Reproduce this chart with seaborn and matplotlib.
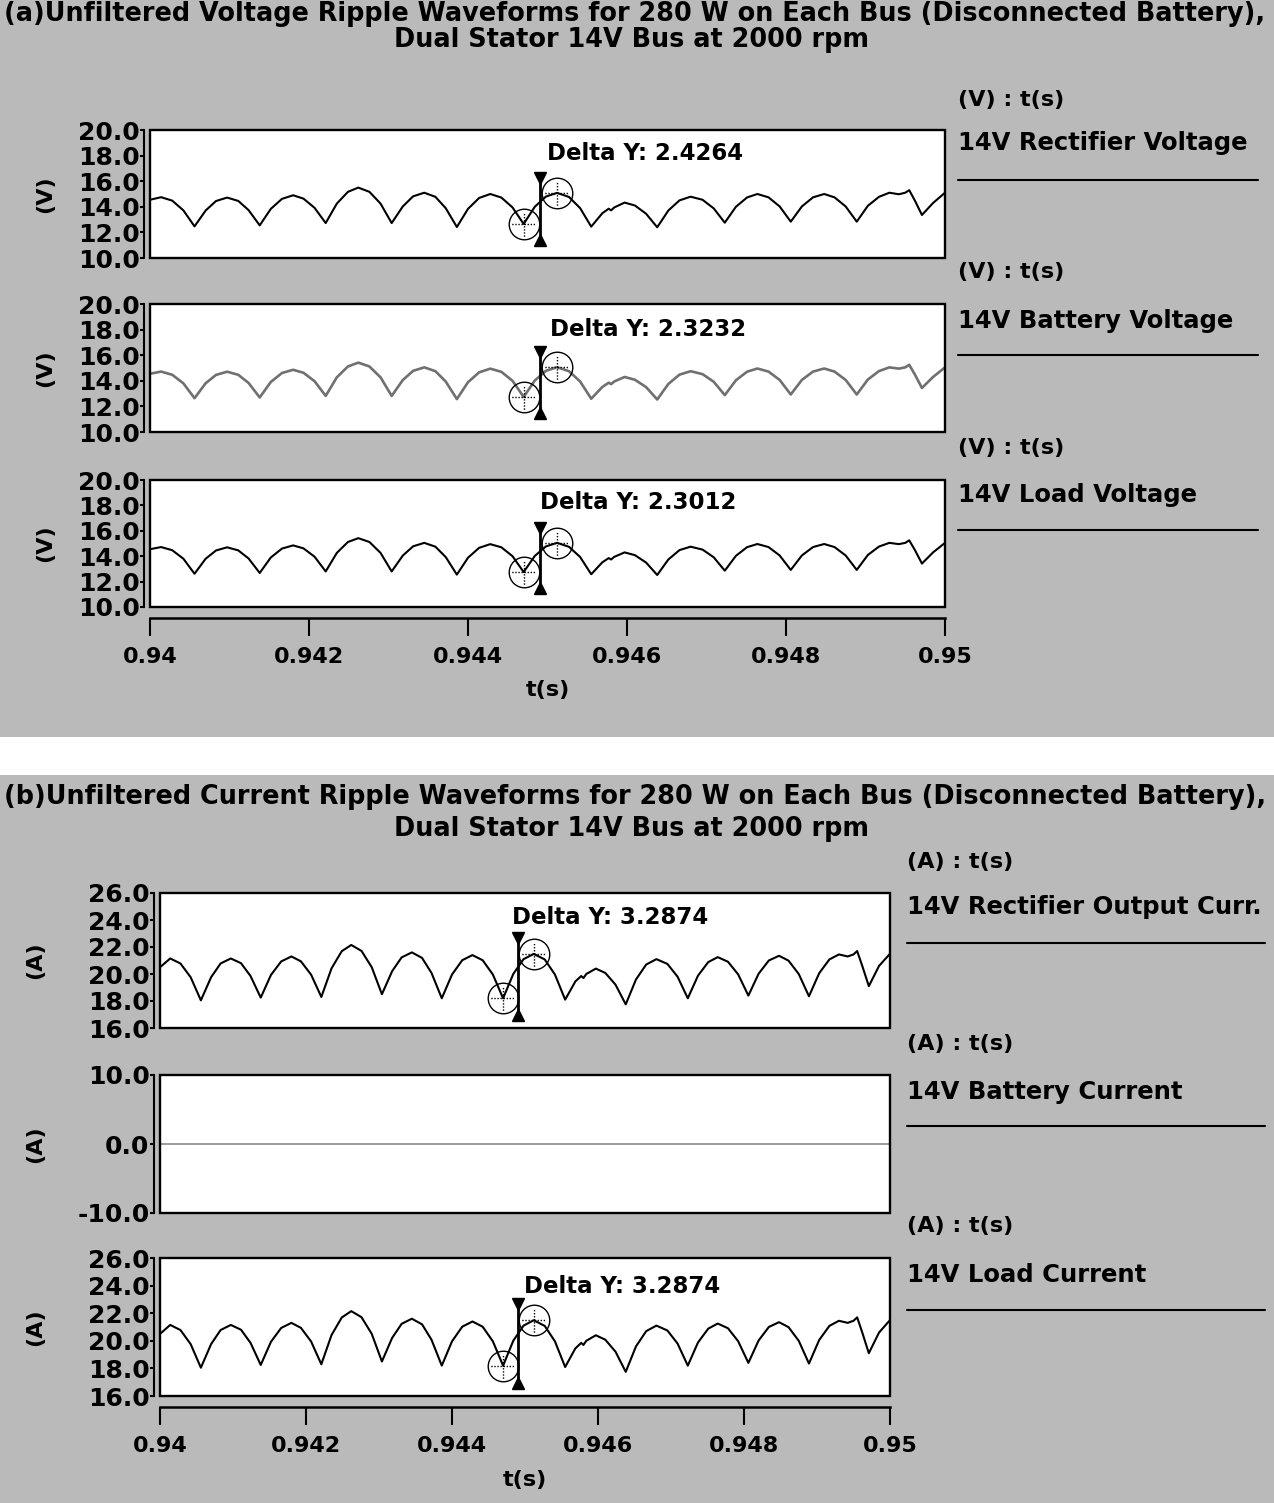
import matplotlib
matplotlib.use("Agg")
import matplotlib.pyplot as plt
from matplotlib.patches import Rectangle
from matplotlib.lines import Line2D
from matplotlib.path import Path
import numpy as np
import seaborn as sns

# ---------------------------------------------------------------- data
# simulation time base (s), shared by every trace
t_s = [
    0.94000, 0.94014, 0.94028, 0.94042,
    0.94056, 0.94070, 0.94083, 0.94097, 0.94111, 0.94124,
    0.94138, 0.94152, 0.94166, 0.94180, 0.94193, 0.94207,
    0.94221, 0.94235, 0.94249, 0.94262, 0.94276, 0.94290,
    0.94304, 0.94318, 0.94331, 0.94345, 0.94359, 0.94372,
    0.94386, 0.94400, 0.94414, 0.94428, 0.94442, 0.94456,
    0.94470, 0.94484, 0.94498, 0.94512, 0.94527, 0.94541,
    0.94555, 0.94569, 0.94577, 0.94580, 0.94584, 0.94597, 0.94610, 0.94624,
    0.94638, 0.94652, 0.94666, 0.94680, 0.94695, 0.94709,
    0.94723, 0.94737, 0.94751, 0.94764, 0.94778, 0.94792,
    0.94806, 0.94820, 0.94834, 0.94848, 0.94861, 0.94875,
    0.94889, 0.94903, 0.94917, 0.94930, 0.94942, 0.94950, 0.94955, 0.94962,
    0.94971, 0.94985, 0.95000,
]

# 14V rectifier voltage (V)
v_rect = [
    14.55, 14.75, 14.48, 13.72,
    12.47, 13.71, 14.45, 14.72, 14.46, 13.74,
    12.55, 13.84, 14.62, 14.90, 14.64, 13.92,
    12.73, 14.25, 15.17, 15.50, 15.17, 14.25,
    12.73, 14.03, 14.82, 15.10, 14.78, 13.89,
    12.42, 13.84, 14.69, 15.00, 14.72, 13.95,
    12.66, 14.00, 14.80, 15.0864, 14.77, 13.90,
    12.45, 13.50, 13.85, 13.72, 13.95, 14.33, 14.10, 13.46,
    12.40, 13.71, 14.50, 14.79, 14.55, 13.88,
    12.76, 14.00, 14.73, 15.00, 14.74, 14.03,
    12.84, 14.03, 14.74, 15.00, 14.74, 14.03,
    12.84, 14.08, 14.78, 15.10, 14.98, 15.10, 15.30, 14.50,
    13.36, 14.30, 15.10,
]

# 14V battery voltage (V)
v_batt = [
    14.55, 14.72, 14.47, 13.80,
    12.64, 13.81, 14.46, 14.71, 14.47, 13.83,
    12.70, 13.91, 14.61, 14.86, 14.63, 13.97,
    12.82, 14.27, 15.12, 15.42, 15.12, 14.27,
    12.82, 14.06, 14.78, 15.05, 14.75, 13.94,
    12.57, 13.89, 14.66, 14.95, 14.70, 14.00,
    12.74, 14.02, 14.78, 15.0632, 14.75, 13.95,
    12.60, 13.52, 13.85, 13.74, 13.95, 14.30, 14.08, 13.51,
    12.54, 13.75, 14.48, 14.75, 14.52, 13.93,
    12.88, 14.04, 14.71, 14.96, 14.72, 14.07,
    12.93, 14.07, 14.72, 14.96, 14.72, 14.07,
    12.93, 14.10, 14.76, 15.05, 14.95, 15.05, 15.25, 14.50,
    13.44, 14.30, 15.05,
]

# 14V load voltage (V)
v_load = [
    14.55, 14.72, 14.47, 13.80,
    12.62, 13.80, 14.45, 14.70, 14.46, 13.82,
    12.68, 13.90, 14.60, 14.85, 14.62, 13.96,
    12.80, 14.26, 15.12, 15.42, 15.12, 14.26,
    12.80, 14.05, 14.78, 15.05, 14.75, 13.93,
    12.55, 13.88, 14.66, 14.95, 14.70, 14.00,
    12.75, 14.02, 14.77, 15.0512, 14.74, 13.94,
    12.58, 13.52, 13.85, 13.74, 13.95, 14.30, 14.08, 13.50,
    12.52, 13.74, 14.48, 14.75, 14.52, 13.92,
    12.86, 14.03, 14.71, 14.96, 14.72, 14.06,
    12.92, 14.06, 14.72, 14.96, 14.72, 14.06,
    12.92, 14.10, 14.76, 15.05, 14.95, 15.05, 15.25, 14.50,
    13.42, 14.30, 15.05,
]

# 14V rectifier output current (A)
i_rect = [
    20.50, 21.15, 20.78, 19.76,
    18.05, 19.76, 20.78, 21.15, 20.80, 19.85,
    18.25, 19.93, 20.93, 21.30, 20.94, 19.95,
    18.30, 20.42, 21.69, 22.15, 21.71, 20.51,
    18.50, 20.21, 21.23, 21.60, 21.19, 20.07,
    18.20, 19.96, 21.02, 21.40, 21.02, 19.96,
    18.20, 20.01, 21.10, 21.4874, 21.08, 19.96,
    18.10, 19.45, 19.85, 19.70, 20.00, 20.40, 20.08, 19.21,
    17.75, 19.59, 20.70, 21.10, 20.75, 19.80,
    18.20, 19.88, 20.88, 21.25, 20.91, 19.97,
    18.40, 20.02, 21.00, 21.35, 20.99, 20.00,
    18.35, 20.06, 21.08, 21.45, 21.30, 21.45, 21.70, 20.60,
    19.10, 20.60, 21.50,
]

# 14V load current (A): battery disconnected, so it carries the rectifier current
i_load = list(i_rect)

# 14V battery current (A)
i_batt_t = [0.94000, 0.95000]
i_batt = [0.0, 0.0]

# cursor pair: valley and following peak, with the Delta Y readouts
cursor_t = [0.94470, 0.94512]
cursor_low = [12.66, 12.74, 12.75, 18.20, 18.20]
delta_y = [2.4264, 2.3232, 2.3012, 3.2874, 3.2874]

x_ticks = [0.940, 0.942, 0.944, 0.946, 0.948, 0.950]
x_tick_labels = ["0.94", "0.942", "0.944", "0.946", "0.948", "0.95"]
v_ticks = [10.0, 12.0, 14.0, 16.0, 18.0, 20.0]
i_ticks = [16.0, 18.0, 20.0, 22.0, 24.0, 26.0]
ib_ticks = [-10.0, 0.0, 10.0]

title_a = ["(a)Unfiltered Voltage Ripple Waveforms for 280 W on Each Bus (Disconnected Battery),",
           "Dual Stator 14V Bus at 2000 rpm"]
title_b = ["(b)Unfiltered Current Ripple Waveforms for 280 W on Each Bus (Disconnected Battery),",
           "Dual Stator 14V Bus at 2000 rpm"]
names_a = ["14V Rectifier Voltage", "14V Battery Voltage", "14V Load Voltage"]
names_b = ["14V Rectifier Output Curr.", "14V Battery Current", "14V Load Current"]

# ---------------------------------------------------------------- style
sns.set_theme(style="white")
plt.rcParams["font.family"] = ["DejaVu Sans"]
plt.rcParams["font.weight"] = "bold"

W, H = 1274, 1503
GRAY = "#bababa"


def fx(x):
    return x / W


def fy(y):
    return 1 - y / H


def target_path():
    """Circle with a dotted crosshair, used as the cursor marker."""
    circ = Path.unit_circle()
    verts = [tuple(v) for v in circ.vertices]
    codes = list(circ.codes)
    for a in np.arange(-0.8, 0.79, 0.2):
        verts += [(a, 0.0), (a + 0.09, 0.0), (0.0, a), (0.0, a + 0.09)]
        codes += [Path.MOVETO, Path.LINETO, Path.MOVETO, Path.LINETO]
    return Path(verts, codes)


TARGET = target_path()

fig = plt.figure(figsize=(W / 100, H / 100), dpi=100, facecolor="white")
fig.add_artist(Rectangle((0, fy(737)), 1, 737 / H, transform=fig.transFigure,
                         facecolor=GRAY, edgecolor="none", zorder=-20))
fig.add_artist(Rectangle((0, 0), 1, fy(775), transform=fig.transFigure,
                         facecolor=GRAY, edgecolor="none", zorder=-20))


def draw_panel(box, x, y, ylim, yticks, ylabel, label_x, color="black", lw=1.5,
               cursor=None, delta_pos=None, xaxis=False, xlabel_y=None):
    x0, x1, y0, y1 = box
    ax = fig.add_axes([fx(x0), fy(y1), (x1 - x0) / W, (y1 - y0) / H])
    ax.set_facecolor("white")
    sns.lineplot(x=x, y=y, ax=ax, color=color, lw=lw, estimator=None, zorder=4)
    ax.set_xlim(0.94, 0.95)
    ax.set_ylim(*ylim)
    for s in ax.spines.values():
        s.set_visible(False)
    ax.spines["left"].set_visible(True)
    ax.spines["left"].set_position(("outward", 4))
    ax.spines["left"].set_linewidth(1.5)
    ax.spines["left"].set_color("black")
    ax.add_patch(Rectangle((0, 0), 1, 1, transform=ax.transAxes, fill=False,
                           edgecolor="black", lw=1.7, clip_on=False, zorder=6))
    ax.set_yticks(yticks)
    ax.set_yticklabels([f"{v:.1f}" for v in yticks], fontsize=18, fontweight="bold")
    ax.tick_params(axis="y", direction="out", length=3, width=1.5, pad=0.5,
                   colors="black", left=True)
    ax.set_ylabel(ylabel, fontsize=16, fontweight="bold", color="black")
    ax.yaxis.label.set_va("center")
    ax.yaxis.set_label_coords(label_x, 0.5)

    if xaxis:
        ax.spines["bottom"].set_visible(True)
        ax.spines["bottom"].set_position(("outward", 8))
        ax.spines["bottom"].set_linewidth(1.8)
        ax.spines["bottom"].set_color("black")
        ax.set_xticks(x_ticks)
        ax.set_xticklabels(x_tick_labels, fontsize=16, fontweight="bold")
        ax.tick_params(axis="x", direction="out", length=13, width=1.5, pad=8,
                       colors="black", bottom=True)
        ax.set_xlabel("t(s)", fontsize=16, fontweight="bold", color="black")
        ax.xaxis.label.set_va("center")
        ax.xaxis.set_label_coords(0.5, xlabel_y)
    else:
        ax.set_xticks([])
        ax.set_xlabel("")

    if cursor is not None:
        lo = cursor_low[cursor]
        hi = lo + delta_y[cursor]
        t_lo, t_hi = cursor_t
        tc = (t_lo + t_hi) / 2
        ax.plot([tc, tc], [lo - 1.25, hi + 1.15], color="black", lw=2, zorder=7)
        ax.plot([tc], [hi + 1.15], marker="v", ms=9, color="black", zorder=8)
        ax.plot([tc], [lo - 1.25], marker="^", ms=9, color="black", zorder=8)
        ax.plot([t_lo, t_hi], [lo, hi], ls="none", marker=TARGET, ms=22,
                mfc="none", mec="black", mew=1.0, zorder=8)
        ax.text(delta_pos[0], delta_pos[1], f"Delta Y: {delta_y[cursor]:.4f}",
                transform=ax.transAxes, ha="center", va="center",
                fontsize=16.5, fontweight="bold", color="black", zorder=9)
    return ax


# ---- (a) voltages
draw_panel((150, 945, 130, 258), t_s, v_rect, (10, 20), v_ticks, "(V)", -0.132,
           cursor=0, delta_pos=(0.623, 0.82))
draw_panel((150, 945, 304, 432), t_s, v_batt, (10, 20), v_ticks, "(V)", -0.132,
           color="#707070", lw=1.9, cursor=1, delta_pos=(0.627, 0.80))
draw_panel((150, 945, 480, 607), t_s, v_load, (10, 20), v_ticks, "(V)", -0.132,
           cursor=2, delta_pos=(0.614, 0.82), xaxis=True, xlabel_y=(607 - 690) / 127)

# ---- (b) currents
draw_panel((160, 890, 893, 1028), t_s, i_rect, (16, 26), i_ticks, "(A)", -0.171,
           cursor=3, delta_pos=(0.616, 0.815))
draw_panel((160, 890, 1075, 1213), i_batt_t, i_batt, (-10, 10), ib_ticks, "(A)", -0.171,
           color="#8a8a8a", lw=1.2)
draw_panel((160, 890, 1258, 1396), t_s, i_load, (16, 26), i_ticks, "(A)", -0.171,
           cursor=4, delta_pos=(0.633, 0.79), xaxis=True, xlabel_y=(1396 - 1480) / 138)

# ---- titles
for title, ys in ((title_a, (14, 40)), (title_b, (797, 829))):
    fig.text(fx(635), fy(ys[0]), title[0], ha="center", va="center",
             fontweight="bold", fontsize=18.4, color="black")
    fig.text(fx(632), fy(ys[1]), title[1], ha="center", va="center",
             fontweight="bold", fontsize=18.4, color="black")

# ---- trace legends on the right
for names, unit, lx, rx, rows in (
        (names_a, "(V) : t(s)", 958, 1258, ((100, 143, 180), (272, 321, 355), (448, 495, 530))),
        (names_b, "(A) : t(s)", 907, 1265, ((862, 907, 943), (1044, 1092, 1126), (1226, 1275, 1310)))):
    for name, (yu, yn, yl) in zip(names, rows):
        fig.text(fx(lx), fy(yu), unit, ha="left", va="center", fontsize=16,
                 fontweight="bold", color="black")
        fig.text(fx(lx), fy(yn), name, ha="left", va="center", fontsize=17.5,
                 fontweight="bold", color="black")
        fig.add_artist(Line2D([fx(lx), fx(rx)], [fy(yl), fy(yl)],
                              transform=fig.transFigure, color="black", lw=1.5))

fig.savefig("out.png", dpi=100, facecolor="white")
